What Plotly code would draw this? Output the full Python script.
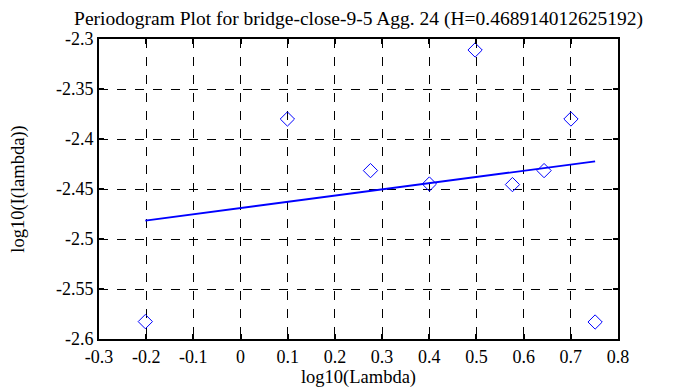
import plotly.graph_objects as go

# Data
log_lambda = [-0.2018, 0.0993, 0.2754, 0.4002, 0.4971, 0.5763, 0.6433, 0.7003, 0.7515]
log_I = [-2.5826, -2.380, -2.4316, -2.445, -2.311, -2.4456, -2.4316, -2.380, -2.583]
fit_x = [-0.2018, 0.7515]
fit_y = [-2.4816, -2.4223]

x_ticks = [-0.3, -0.2, -0.1, 0, 0.1, 0.2, 0.3, 0.4, 0.5, 0.6, 0.7, 0.8]
x_tick_text = ["-0.3", "-0.2", "-0.1", "0", "0.1", "0.2", "0.3", "0.4", "0.5", "0.6", "0.7", "0.8"]
y_ticks = [-2.6, -2.55, -2.5, -2.45, -2.4, -2.35, -2.3]
y_tick_text = ["-2.6", "-2.55", "-2.5", "-2.45", "-2.4", "-2.35", "-2.3"]

title_text = "Periodogram Plot for bridge-close-9-5 Agg. 24 (H=0.468914012625192)"
FONT = "Liberation Serif"

fig = go.Figure()
fig.add_trace(go.Scatter(x=log_lambda, y=log_I, mode="markers",
                         marker=dict(symbol="diamond-open", size=11, color="#0000ff",
                                     line=dict(width=1, color="#0000ff")),
                         showlegend=False))
fig.add_trace(go.Scatter(x=fit_x, y=fit_y, mode="lines",
                         line=dict(color="#0000ff", width=1.8), showlegend=False))

axis_common = dict(showline=True, linecolor="black", linewidth=2, mirror="allticks",
                   ticks="inside", ticklen=5, tickwidth=2, tickcolor="black",
                   showgrid=True, gridcolor="black", gridwidth=1, griddash="dash",
                   zeroline=False, automargin=False,
                   tickfont=dict(family=FONT, size=18, color="black"))

fig.update_layout(
    width=693, height=387,
    margin=dict(l=91, r=83, t=31, b=56, autoexpand=False),
    paper_bgcolor="white", plot_bgcolor="white",
    font=dict(family=FONT, color="black"),
    title=dict(text=title_text, x=0.5, xref="paper", xanchor="center",
               y=0.974, yref="container", yanchor="middle", automargin=False,
               font=dict(family=FONT, size=19.5, color="black")),
    xaxis=dict(range=[-0.3, 0.8], tickvals=x_ticks, ticktext=x_tick_text,
               title=dict(text="log10(Lambda)", font=dict(family=FONT, size=18.5), standoff=3),
               **axis_common),
    yaxis=dict(range=[-2.6, -2.3], tickvals=y_ticks, ticktext=y_tick_text,
               title=dict(text="log10(I(lambda))", font=dict(family=FONT, size=18.5), standoff=30),
               **axis_common),
)

fig.write_html("out.html")
